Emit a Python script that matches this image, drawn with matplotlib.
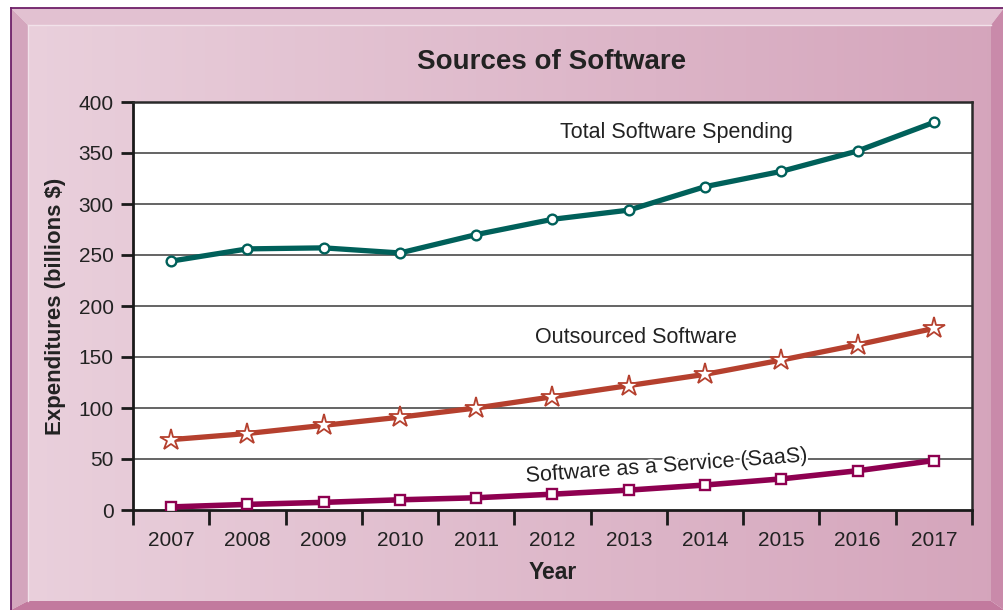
import numpy as np
import matplotlib
matplotlib.use("Agg")
import matplotlib.pyplot as plt
from matplotlib.patches import Polygon
import matplotlib.patheffects as pe

plt.rcParams['font.family'] = ['Liberation Sans', 'DejaVu Sans']

years = ['2007', '2008', '2009', '2010', '2011', '2012', '2013', '2014', '2015', '2016', '2017']
total_spending = [244, 256, 257, 252, 270, 285, 294, 317, 332, 352, 380]
outsourced = [69, 75, 83, 91, 100, 111, 122, 133, 147, 162, 178]
saas = [3, 5.5, 7.5, 10, 12, 15.5, 19.5, 24.5, 30.5, 38.5, 48.5]
y_ticks = [0, 50, 100, 150, 200, 250, 300, 350, 400]

W, H = 1004, 610
fig = plt.figure(figsize=(W / 100, H / 100), dpi=100)
fig.patch.set_facecolor('white')

# Beveled pink frame drawn in pixel coordinates
bg = fig.add_axes([0, 0, 1, 1])
bg.set_xlim(0, W)
bg.set_ylim(H, 0)
bg.axis('off')

L, T, R, B = 11, 8, 1004, 610
iL, iT, iR, iB = 28, 25, 991, 601

grad = np.linspace(0, 1, 256)[None, :]
c_left = np.array([0.915, 0.815, 0.862])
c_right = np.array([0.835, 0.648, 0.737])
img = c_left[None, None, :] * (1 - grad[..., None]) + c_right[None, None, :] * grad[..., None]
bg.imshow(img, extent=[iL, iR, iB, iT], aspect='auto', zorder=1)

# top bevel
bg.add_patch(Polygon([[L, T], [R, T], [iR, iT], [iL, iT]], closed=True,
                     facecolor='#e2c1d1', edgecolor='none', zorder=2))
# left bevel
bg.add_patch(Polygon([[L, T], [iL, iT], [iL, iB], [L, B]], closed=True,
                     facecolor='#d4a6bd', edgecolor='none', zorder=2))
# right bevel
bg.add_patch(Polygon([[R, T], [R, B], [iR, iB], [iR, iT]], closed=True,
                     facecolor='#c98aaa', edgecolor='none', zorder=2))
# bottom bevel
bg.add_patch(Polygon([[L, B], [iL, iB], [iR, iB], [R, B]], closed=True,
                     facecolor='#c27a9e', edgecolor='none', zorder=2))
# highlight lines on the inner edge
bg.plot([iL, iR], [iT, iT], color='#f2e2ea', lw=1.0, zorder=3)
bg.plot([iL, iL], [iT, iB], color='#f2e2ea', lw=1.0, zorder=3)
# outer border
bg.plot([L, R], [T, T], color='#6e2068', lw=1.3, zorder=4)
bg.plot([L, L], [T, B], color='#6e2068', lw=1.3, zorder=4)

# Main plotting area
ax_l, ax_t, ax_r, ax_b = 133, 102, 972, 510
ax = fig.add_axes([ax_l / W, (H - ax_b) / H, (ax_r - ax_l) / W, (ax_b - ax_t) / H])
ax.set_facecolor('white')

x = np.arange(len(years))
ax.set_xlim(-0.5, len(years) - 0.5)
ax.set_ylim(0, 400)

for yv in y_ticks[1:-1]:
    ax.axhline(yv, color='#3a3a3a', lw=1.1, zorder=1)

ax.plot(x, total_spending, color='#00605a', lw=3.8, marker='o', ms=7,
        mfc='white', mec='#00605a', mew=1.7, zorder=5, solid_capstyle='round')
ax.plot(x, outsourced, color='#b5402e', lw=3.8, marker='*', ms=16,
        mfc='white', mec='#b5402e', mew=1.3, zorder=5, solid_capstyle='round')
ax.plot(x, saas, color='#8e0050', lw=4.0, marker='s', ms=6.5,
        mfc='white', mec='#8e0050', mew=1.7, zorder=5, solid_capstyle='round')

ax.text(6.62, 370, 'Total Software Spending', ha='center', va='center',
        fontsize=15.5, color='#222222', zorder=6)
ax.text(6.1, 169, 'Outsourced Software', ha='center', va='center',
        fontsize=15.5, color='#222222', zorder=6)
ax.text(6.49, 43, 'Software as a Service (SaaS)', ha='center', va='center',
        fontsize=15.5, color='#222222', rotation=4.2, zorder=6,
        path_effects=[pe.withStroke(linewidth=3, foreground='white')])

# Axes styling
for side in ['left', 'bottom']:
    ax.spines[side].set_color('#1a1a1a')
    ax.spines[side].set_linewidth(2.0)
for side in ['top', 'right']:
    ax.spines[side].set_color('#2a2a2a')
    ax.spines[side].set_linewidth(1.8)

ax.set_yticks(y_ticks)
ax.set_yticklabels([str(v) for v in y_ticks], fontsize=15, color='#222222')
ax.tick_params(axis='y', length=9, width=2.0, color='#1a1a1a', pad=5, direction='out')

ax.set_xticks(x)
ax.set_xticklabels(years, fontsize=15, color='#222222')
ax.set_xticks(np.arange(-0.5, len(years)), minor=True)
ax.tick_params(axis='x', which='major', length=0, pad=15)
ax.tick_params(axis='x', which='minor', length=11, width=2.0, color='#1a1a1a', direction='out')

ax.set_xlabel('Year', fontsize=16.5, fontweight='bold', color='#222222', labelpad=8)
ax.set_ylabel('Expenditures (billions $)', fontsize=16, fontweight='bold',
              color='#222222', labelpad=9)

fig.text(552 / W, 1 - 62 / H, 'Sources of Software', ha='center', va='center',
         fontsize=20, fontweight='bold', color='#222222')

fig.savefig('out.png', dpi=100, facecolor=fig.get_facecolor())
